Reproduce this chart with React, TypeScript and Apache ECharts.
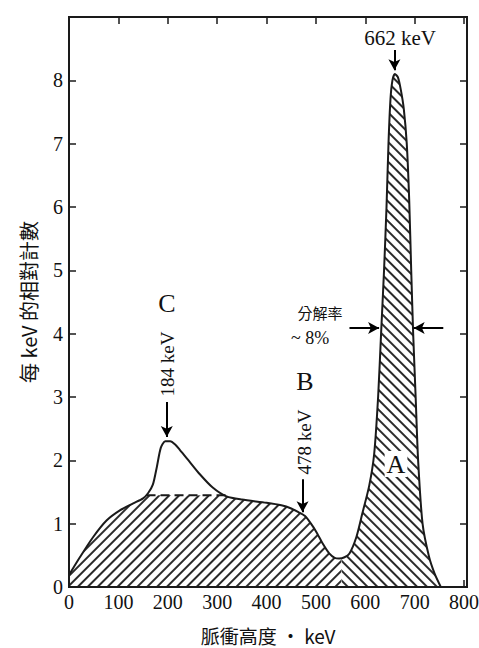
import React, { useEffect, useRef } from "react";
import * as echarts from "echarts";

// Measured spectrum (pulse height keV, relative counts per keV)
const spectrum: [number, number][] = [
  [0, 0.19], [22, 0.47], [49, 0.79], [76, 1.05], [103, 1.21], [130, 1.32], [150, 1.4],
  [160, 1.48], [170, 1.62], [178, 1.9], [186, 2.2], [195, 2.3], [205, 2.3], [215, 2.25],
  [224, 2.17], [244, 1.98], [265, 1.78], [291, 1.57], [319, 1.43], [350, 1.38], [400, 1.33],
  [430, 1.29], [450, 1.24], [465, 1.18], [478, 1.12], [490, 1.0], [500, 0.88], [515, 0.67],
  [527, 0.53], [538, 0.46], [547, 0.45], [558, 0.47], [568, 0.53], [582, 0.79], [594, 1.16],
  [608, 1.6], [618, 2.1], [626, 3.0], [632, 4.0], [638, 5.0], [643, 6.0], [647, 7.0],
  [651, 7.7], [655, 8.0], [660, 8.1], [666, 8.05], [672, 7.85], [678, 7.55], [684, 7.0],
  [689, 6.1], [693, 5.0], [697, 4.0], [702, 3.0], [707, 2.0], [716, 1.0], [729, 0.48],
  [740, 0.22], [753, 0],
];

// Hatched Compton region (B)
const comptonRegion: [number, number][] = [
  [0, 0.19], [22, 0.47], [49, 0.79], [76, 1.05], [103, 1.21], [130, 1.32], [150, 1.4],
  [157, 1.45], [240, 1.45], [319, 1.43], [350, 1.38], [400, 1.33], [430, 1.29], [450, 1.24],
  [465, 1.18], [478, 1.12], [490, 1.0], [500, 0.88], [515, 0.67], [527, 0.53], [538, 0.46],
  [547, 0.45], [552, 0.45],
];

// Hatched photopeak region (A)
const photopeakRegion: [number, number][] = [
  [552, 0.45], [558, 0.47], [568, 0.53], [582, 0.79], [594, 1.16], [608, 1.6], [618, 2.1],
  [626, 3.0], [632, 4.0], [638, 5.0], [643, 6.0], [647, 7.0], [651, 7.7], [655, 8.0],
  [660, 8.1], [666, 8.05], [672, 7.85], [678, 7.55], [684, 7.0], [689, 6.1], [693, 5.0],
  [697, 4.0], [702, 3.0], [707, 2.0], [716, 1.0], [729, 0.48], [740, 0.22], [753, 0],
];

// Dashed Compton continuum top under peak C
const comptonDashed: [number, number][] = [[157, 1.45], [319, 1.45]];

// Arrows [fromX, fromY, toX, toY] in data coordinates
const arrows: [number, number, number, number][] = [
  [659, 8.48, 659, 8.16],
  [198, 2.92, 198, 2.37],
  [473, 1.7, 473, 1.18],
  [568, 4.09, 628, 4.09],
  [758, 4.09, 698, 4.09],
];

const xLabels = [0, 100, 200, 300, 400, 500, 600, 700, 800];
const yLabels = [0, 1, 2, 3, 4, 5, 6, 7, 8];

const SERIF = "Liberation Serif";
const CJK = "Noto Sans CJK TC";

const hatch = (rotation: number) => ({
  symbol: "rect",
  symbolSize: 1,
  dashArrayX: [6, 0],
  dashArrayY: [1.6, 4.4],
  rotation,
  color: "#2a2a2a",
});

const GRID = { left: 69, right: 12, top: 17, bottom: 61 };
const W = 479;
const H = 648;

const mkTick = () => ({ show: true, inside: true, length: 7, lineStyle: { color: "#1a1a1a", width: 1.5 } });
const mkLine = () => ({ show: true, onZero: false, lineStyle: { color: "#1a1a1a", width: 2 } });

export default function App() {
  const ref = useRef<HTMLDivElement>(null);
  useEffect(() => {
    if (!ref.current) return;
    const chart = echarts.init(ref.current, undefined, { renderer: "svg" });
    const option: any = {
      animation: false,
      backgroundColor: "#ffffff",
      grid: {
        ...GRID, containLabel: false, outerBoundsMode: "none",
        show: true, borderColor: "#1a1a1a", borderWidth: 2, backgroundColor: "transparent",
      },
      xAxis: [
        {
          type: "value", min: 0, max: 806, interval: 100, position: "bottom",
          axisLine: mkLine(), axisTick: mkTick(), splitLine: { show: false },
          axisLabel: {
            margin: 5, fontFamily: SERIF, fontSize: 20, color: "#111",
            formatter: (v: number) => (xLabels.includes(v) ? String(v) : ""),
          },
        },
        {
          type: "value", min: 0, max: 806, interval: 100, position: "top",
          axisLine: mkLine(), axisTick: mkTick(), splitLine: { show: false },
          axisLabel: { show: false },
        },
      ],
      yAxis: [
        {
          type: "value", min: 0, max: 9, interval: 1, position: "left",
          axisLine: mkLine(), axisTick: mkTick(), splitLine: { show: false },
          axisLabel: {
            margin: 6, fontFamily: SERIF, fontSize: 20, color: "#111",
            formatter: (v: number) => (yLabels.includes(v) ? String(v) : ""),
          },
        },
        {
          type: "value", min: 0, max: 9, interval: 1, position: "right",
          axisLine: mkLine(), axisTick: mkTick(), splitLine: { show: false },
          axisLabel: { show: false },
        },
      ],
      series: [
        {
          type: "line", data: comptonRegion, smooth: 0.25, showSymbol: false, z: 1,
          lineStyle: { width: 0, opacity: 0, decal: hatch(-Math.PI / 4) },
          itemStyle: { decal: hatch(-Math.PI / 4) },
          areaStyle: { color: "#ffffff", opacity: 1 },
          silent: true,
        },
        {
          type: "line", data: photopeakRegion, smooth: 0.25, showSymbol: false, z: 1,
          lineStyle: { width: 0, opacity: 0, decal: hatch(Math.PI / 4) },
          itemStyle: { decal: hatch(Math.PI / 4) },
          areaStyle: { color: "#ffffff", opacity: 1 },
          silent: true,
        },
        {
          type: "line", data: comptonDashed, showSymbol: false, z: 3,
          lineStyle: { color: "#1a1a1a", width: 2, type: [9, 5] },
          silent: true,
        },
        {
          type: "line", data: spectrum, smooth: 0.25, showSymbol: false, z: 4,
          lineStyle: { color: "#1a1a1a", width: 2 },
          silent: true,
          markLine: {
            silent: true, symbol: ["none", "arrow"], symbolSize: [9, 11],
            lineStyle: { color: "#000", width: 2, type: "solid" },
            label: { show: false },
            data: arrows.map(([x1, y1, x2, y2]) => [{ coord: [x1, y1] }, { coord: [x2, y2] }]),
          },
        },
      ],
      graphic: [
        {
          type: "rect", z: 50, silent: true,
          shape: { x: GRID.left, y: GRID.top, width: W - GRID.left - GRID.right, height: H - GRID.top - GRID.bottom },
          style: { fill: "none", stroke: "#1a1a1a", lineWidth: 2 },
        },
        { type: "text", x: 400, y: 38, style: { text: "662 keV", fontFamily: SERIF, fontSize: 21, fill: "#111", align: "center", verticalAlign: "middle", backgroundColor: "#fff" } },
        { type: "text", x: 167, y: 303, style: { text: "C", fontFamily: SERIF, fontSize: 26, fill: "#111", align: "center", verticalAlign: "middle" } },
        { type: "text", x: 167, y: 364, rotation: Math.PI / 2, style: { text: "184 keV", fontFamily: SERIF, fontSize: 19, fill: "#111", align: "center", verticalAlign: "middle" } },
        { type: "text", x: 305, y: 381, style: { text: "B", fontFamily: SERIF, fontSize: 26, fill: "#111", align: "center", verticalAlign: "middle" } },
        { type: "text", x: 304, y: 442, rotation: Math.PI / 2, style: { text: "478 keV", fontFamily: SERIF, fontSize: 19, fill: "#111", align: "center", verticalAlign: "middle" } },
        { type: "text", x: 396, y: 464, z: 10, style: { text: "A", fontFamily: SERIF, fontSize: 26, fill: "#111", align: "center", verticalAlign: "middle", backgroundColor: "#fff", padding: [0, 2] } },
        { type: "text", x: 320, y: 312, style: { text: "分解率", fontFamily: CJK, fontSize: 15, fill: "#111", align: "center", verticalAlign: "middle" } },
        { type: "text", x: 310, y: 338, style: { text: "~ 8%", fontFamily: SERIF, fontSize: 18, fill: "#111", align: "center", verticalAlign: "middle" } },
        { type: "text", x: 28, y: 302, rotation: Math.PI / 2, style: { text: "每 keV 的相對計數", fontFamily: CJK, fontSize: 20, fill: "#111", align: "center", verticalAlign: "middle" } },
        { type: "text", x: 268, y: 635, style: { text: "脈衝高度 · keV", fontFamily: CJK, fontSize: 19, fill: "#111", align: "center", verticalAlign: "middle" } },
      ],
    };
    chart.setOption(option);
    return () => chart.dispose();
  }, []);
  return <div ref={ref} style={{ width: W, height: H, position: "absolute", left: 0, top: 0 }} />;
}
